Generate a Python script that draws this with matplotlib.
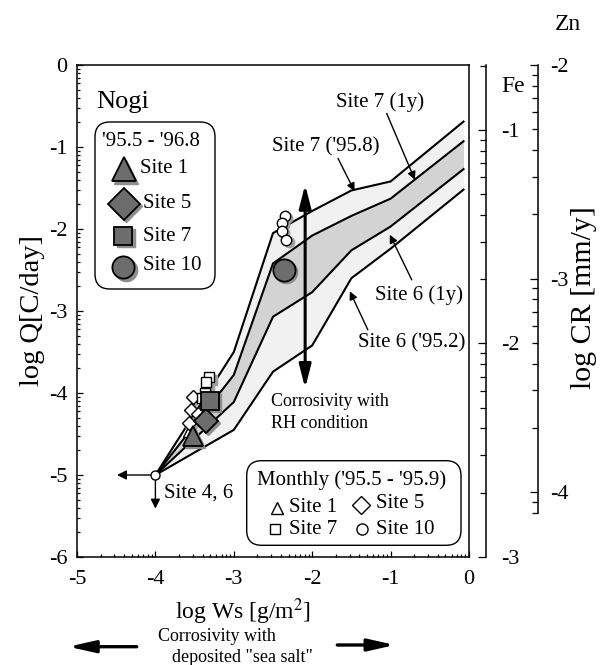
import numpy as np
import matplotlib
matplotlib.use('Agg')
import matplotlib.pyplot as plt
from matplotlib.patches import FancyBboxPatch
from matplotlib.transforms import Affine2D, ScaledTranslation

plt.rcParams['font.family'] = ['Liberation Serif', 'DejaVu Serif']
plt.rcParams['mathtext.fontset'] = 'stix'
plt.rcParams['axes.unicode_minus'] = False

# ---------------- data ----------------
band_x = [-4.0, -3.0, -2.5, -2.0, -1.5, -1.0, -0.07]
site7_958 = [-5.0, -3.50, -2.05, -1.78, -1.53, -1.42, -0.69]   # Site 7 ('95.8)
site7_1y = [-5.0, -3.78, -2.42, -2.08, -1.84, -1.63, -0.93]    # Site 7 (1y)
site6_1y = [-5.0, -4.11, -3.07, -2.77, -2.26, -1.97, -1.27]    # Site 6 (1y)
site6_952 = [-5.0, -4.45, -3.74, -3.42, -2.60, -2.24, -1.52]   # Site 6 ('95.2)

annual_sites = ['Site 1', 'Site 5', 'Site 7', 'Site 10']
annual_markers = ['^', 'D', 's', 'o']
annual_logWs = [-3.52, -3.36, -3.30, -2.36]
annual_logQ = [-4.52, -4.34, -4.10, -2.50]

m1_logWs = [-3.58]
m1_logQ = [-4.47]
m5_logWs = [-3.52, -3.54, -3.46, -3.57]
m5_logQ = [-4.05, -4.21, -4.25, -4.37]
m7_logWs = [-3.31, -3.35, -3.37, -3.40]
m7_logQ = [-3.81, -3.87, -4.00, -4.06]
m10_logWs = [-2.35, -2.39, -2.39, -2.33]
m10_logQ = [-1.84, -1.93, -2.02, -2.13]

site46_logWs = -4.0
site46_logQ = -5.0

x_ticks = [-5, -4, -3, -2, -1, 0]
y_ticks = [0, -1, -2, -3, -4, -5, -6]
fe_ticks = [-1, -2, -3]
zn_ticks = [-2, -3, -4]

# ---------------- figure ----------------
W, H = 603, 665
fig = plt.figure(figsize=(W / 100, H / 100), dpi=100)
pix = Affine2D().scale(1 / W, -1 / H).translate(0, 1) + fig.transFigure

L, R, T, B = 77, 469, 65, 557
ax = fig.add_axes([L / W, 1 - B / H, (R - L) / W, (B - T) / H])
ax.set_xlim(-5, 0)
ax.set_ylim(-6, 0)

def log_minor(lo, hi):
    out = []
    for n in range(int(np.floor(lo)) - 1, int(np.ceil(hi)) + 1):
        for k in range(2, 10):
            v = n + np.log10(k)
            if lo - 1e-6 <= v <= hi + 1e-6:
                out.append(v)
    return out

ax.set_xticks(x_ticks)
ax.set_yticks(y_ticks)
ax.set_xticks(log_minor(-5, 0), minor=True)
ax.set_yticks(log_minor(-6, 0), minor=True)
ax.set_xticklabels([str(t) for t in x_ticks])
ax.set_yticklabels([str(t) for t in y_ticks])
ax.tick_params(which='both', direction='in', top=False, right=False, width=0.9)
ax.tick_params(which='major', length=4.5, labelsize=16, pad=7)
ax.tick_params(axis='x', which='major', pad=9)
ax.tick_params(which='minor', length=2.5)
for s in ax.spines.values():
    s.set_linewidth(1.1)
ax.set_ylabel('log Q[C/day]', fontsize=20.5, labelpad=3)

# bands
ax.fill_between(band_x, site6_952, site7_958, color='#f1f1f1', lw=0, zorder=1)
ax.fill_between(band_x, site6_1y, site7_1y, color='#d3d3d3', lw=0, zorder=1.5)
for yy in (site7_958, site7_1y, site6_1y, site6_952):
    ax.plot(band_x, yy, color='k', lw=1.5, zorder=2, solid_joinstyle='miter')

shadow = ax.transData + ScaledTranslation(0.022, -0.022, fig.dpi_scale_trans)

# monthly (open) markers
for xs, ys, mk, ms in ((m1_logWs, m1_logQ, '^', 7), (m5_logWs, m5_logQ, 'D', 7),
                       (m7_logWs, m7_logQ, 's', 7), (m10_logWs, m10_logQ, 'o', 7.5)):
    ax.plot(xs, ys, ls='none', marker=mk, ms=ms, mfc='#a0a0a0', mec='#a0a0a0',
            transform=shadow, zorder=3)
    ax.plot(xs, ys, ls='none', marker=mk, ms=ms, mfc='white', mec='k', mew=1.0, zorder=3.1)

# annual (filled) markers
annual_ms = [15, 12, 13, 16]
for x, y, mk, ms in zip(annual_logWs, annual_logQ, annual_markers, annual_ms):
    ax.plot([x], [y], ls='none', marker=mk, ms=ms, mfc='#8e8e8e', mec='#8e8e8e',
            transform=shadow, zorder=4)
    ax.plot([x], [y], ls='none', marker=mk, ms=ms, mfc='#6d6d6d', mec='k', mew=1.3, zorder=4.1)

# Site 4, 6
def arr(xy, xytext, lw=1.0, ms=12, style='-|>', coords='data', z=5):
    ax.annotate('', xy=xy, xytext=xytext, xycoords=coords, textcoords=coords,
                arrowprops=dict(arrowstyle=style, lw=lw, color='k', mutation_scale=ms,
                                shrinkA=0, shrinkB=0), zorder=z, annotation_clip=False)

arr((-4.49, site46_logQ), (site46_logWs, site46_logQ), lw=1.0, ms=14)
arr((site46_logWs, -5.41), (site46_logWs, site46_logQ), lw=1.0, ms=14)
ax.plot([site46_logWs], [site46_logQ], ls='none', marker='o', ms=6.5, mfc='white',
        mec='k', mew=1.0, zorder=6, clip_on=False)
ax.text(-3.885, -5.22, 'Site 4, 6', fontsize=15, ha='left', va='center')

# vertical RH arrow
arr((-2.09, -1.46), (-2.09, -3.94), lw=2.2, ms=20,
    style='<|-|>,head_length=0.7,head_width=0.18')
ax.text(-2.52, -4.235, 'Corrosivity with\nRH condition', fontsize=13, ha='left',
        va='center', linespacing=1.35)

# band labels
ax.text(-1.14, -0.45, 'Site 7 (1y)', fontsize=15, ha='center', va='center')
arr((-0.69, -1.40), (-1.05, -0.59), ms=12)
ax.text(-1.83, -0.997, "Site 7 ('95.8)", fontsize=15, ha='center', va='center')
arr((-1.46, -1.54), (-1.67, -1.14), ms=12)
ax.text(-0.635, -2.805, 'Site 6 (1y)', fontsize=15, ha='center', va='center')
arr((-1.01, -2.07), (-0.73, -2.62), ms=12)
ax.text(-0.73, -3.39, "Site 6 ('95.2)", fontsize=15, ha='center', va='center')
arr((-1.52, -2.76), (-1.29, -3.23), ms=12)

# ---------------- legends (pixel layout) ----------------
fig.text(96, 102, 'Nogi', transform=pix, fontsize=19, ha='left', va='center')

box1 = FancyBboxPatch((95, 122), 120, 167, boxstyle='round,pad=0,rounding_size=15',
                      transform=pix, fc='white', ec='k', lw=1.0, zorder=7)
ax.add_patch(box1)
box1.set_clip_on(False)
fig.text(101.7, 141.7, "'95.5 - '96.8", transform=pix, fontsize=15, ha='left', va='center', zorder=8)
leg1_pos = [(124, 169.3), (124, 204), (123.3, 236), (123.3, 267.3)]
leg1_text_x = [140, 142.7, 142.7, 142.7]
leg1_text_y = [168.3, 203.3, 236.7, 266]
leg1_ms = [17, 16.5, 13.5, 16]
sh_pix = pix + ScaledTranslation(0.022, -0.022, fig.dpi_scale_trans)
for i, lab in enumerate(annual_sites):
    px_, py_ = leg1_pos[i]
    ax.plot([px_], [py_], transform=sh_pix, marker=annual_markers[i], ms=leg1_ms[i],
            mfc='#8e8e8e', mec='#8e8e8e', ls='none', clip_on=False, zorder=8)
    ax.plot([px_], [py_], transform=pix, marker=annual_markers[i], ms=leg1_ms[i],
            mfc='#6d6d6d', mec='k', mew=1.3, ls='none', clip_on=False, zorder=8.1)
    fig.text(leg1_text_x[i], leg1_text_y[i], lab, transform=pix, fontsize=15,
             ha='left', va='center', zorder=9)

box2 = FancyBboxPatch((246.7, 460.7), 214.3, 84.6, boxstyle='round,pad=0,rounding_size=15',
                      transform=pix, fc='white', ec='k', lw=1.0, zorder=7)
ax.add_patch(box2)
box2.set_clip_on(False)
fig.text(257, 480, "Monthly ('95.5 - '95.9)", transform=pix, fontsize=15, ha='left',
         va='center', zorder=9)
leg2_pos = [(276.7, 508.3), (361, 505), (275, 529.3), (361.7, 529.3)]
leg2_text = [(289.3, 507), (375.5, 504), (289.3, 529), (375.5, 529)]
leg2_ms = [8, 9, 7.5, 8]
for i, lab in enumerate(annual_sites):
    ax.plot([leg2_pos[i][0]], [leg2_pos[i][1]], transform=pix, marker=annual_markers[i],
            ms=leg2_ms[i], mfc='white', mec='k', mew=1.0, ls='none', clip_on=False, zorder=8)
    fig.text(leg2_text[i][0], leg2_text[i][1], lab, transform=pix, fontsize=15,
             ha='left', va='center', zorder=9)

# ---------------- right axes (Fe, Zn) ----------------
def to_fe(q):
    return -3 + (q + 6) * (2.304 / 6)

axfe = fig.add_axes([486 / W, 1 - B / H, 0.0001, (B - T) / H])
axfe.set_ylim(to_fe(-6), to_fe(0))
axfe.set_xticks([])
for k in ('top', 'bottom', 'right'):
    axfe.spines[k].set_visible(False)
axfe.spines['left'].set_linewidth(1.1)
axfe.patch.set_visible(False)
axfe.set_yticks(fe_ticks)
axfe.set_yticklabels([str(t) for t in fe_ticks])
axfe.set_yticks(log_minor(-3, to_fe(0)), minor=True)
axfe.tick_params(axis='y', which='both', direction='out', left=True, right=False,
                 labelleft=False, labelright=True, width=0.9)
axfe.tick_params(axis='y', which='major', length=6, labelsize=16, pad=5)
axfe.tick_params(axis='y', which='minor', length=4)
fig.text(513, 87, 'Fe', transform=pix, fontsize=17, ha='center', va='center')

axzn = fig.add_axes([538 / W, 1 - B / H, 0.0001, (B - T) / H])
axzn.set_ylim(to_fe(-6) - 1.304, to_fe(0) - 1.304)
axzn.set_xticks([])
for k in ('top', 'bottom', 'right'):
    axzn.spines[k].set_visible(False)
axzn.spines['left'].set_linewidth(1.1)
axzn.spines['left'].set_bounds(-4.097, -2.0)
axzn.patch.set_visible(False)
axzn.set_yticks(zn_ticks)
axzn.set_yticklabels([str(t) for t in zn_ticks])
axzn.set_yticks(log_minor(-4.1, -2.0), minor=True)
axzn.tick_params(axis='y', which='both', direction='out', left=True, right=False,
                 labelleft=False, labelright=True, width=0.9)
axzn.tick_params(axis='y', which='major', length=6, labelsize=16, pad=3)
axzn.tick_params(axis='y', which='minor', length=4)
fig.text(568, 25, 'Zn', transform=pix, fontsize=17, ha='center', va='center')
fig.text(584, 298, 'log CR [mm/y]', transform=pix, fontsize=21.5, ha='center',
         va='center', rotation=90)

# ---------------- bottom labels ----------------
fig.text(243, 611.7, 'log Ws [g/m$^2$]', transform=pix, fontsize=17, ha='center', va='center')
fig.text(157.7, 636.7, 'Corrosivity with', transform=pix, fontsize=13, ha='left', va='center')
fig.text(171.7, 657, 'deposited "sea salt"', transform=pix, fontsize=13, ha='left', va='center')
for tip, tail in (((68.3, 646.7), (136.7, 646.7)), ((395, 645), (337.3, 645))):
    ax.annotate('', xy=tip, xytext=tail, xycoords=pix, textcoords=pix,
                arrowprops=dict(arrowstyle='-|>,head_length=0.8,head_width=0.18', lw=2.4,
                                color='k', mutation_scale=20, shrinkA=0, shrinkB=0),
                annotation_clip=False)

fig.savefig('out.png', dpi=100)
